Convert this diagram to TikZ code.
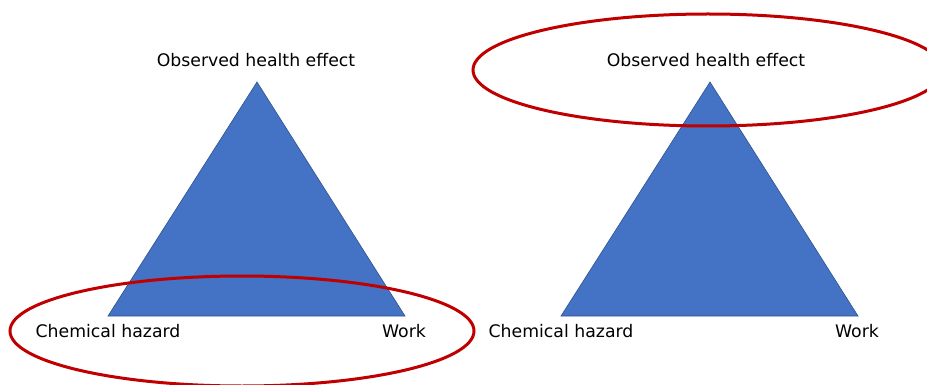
\documentclass[tikz,border=0pt]{standalone}
\usepackage{fontspec}
\setmainfont{DejaVu Sans}
\begin{document}
\begin{tikzpicture}[x=1pt,y=-1pt,
  tri/.style={fill={rgb,255:red,68;green,114;blue,196}, draw={rgb,255:red,47;green,82;blue,143}, line width=0.6pt, line join=miter},
  lbl/.style={font=\fontsize{17.3}{20}\selectfont, text=black, inner sep=0pt},
  ring/.style={draw={rgb,255:red,192;green,0;blue,0}, line width=3pt}]
  \useasboundingbox (0,0) rectangle (927,385);
  \clip (0,0) rectangle (927,385);

  % left triangle
  \coordinate (la) at (257,82);
  \coordinate (lb) at (108,316);
  \coordinate (lc) at (405,316);
  \draw[tri] (la) -- (lb) -- (lc) -- cycle;

  % right triangle
  \coordinate (ra) at (710,82);
  \coordinate (rb) at (561,316);
  \coordinate (rc) at (858,316);
  \draw[tri] (ra) -- (rb) -- (rc) -- cycle;

  % labels
  \node[lbl] (lt) at (256,60) {Observed health effect};
  \node[lbl] (lh) at (108,331) {Chemical hazard};
  \node[lbl] (lw) at (404,331) {Work};
  \node[lbl] (rt) at (706,60) {Observed health effect};
  \node[lbl] (rh) at (561,331) {Chemical hazard};
  \node[lbl] (rw) at (857,331) {Work};

  % highlight rings
  \draw[ring] (242,331) ellipse [x radius=232, y radius=55];
  \draw[ring] (708,70) ellipse [x radius=235, y radius=56];
\end{tikzpicture}
\end{document}
